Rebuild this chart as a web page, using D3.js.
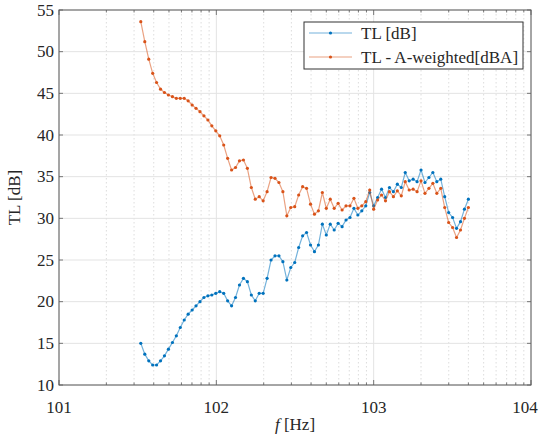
<!DOCTYPE html>
<html>
<head>
<meta charset="utf-8">
<script src="https://cdn.jsdelivr.net/npm/d3@7"></script>
<style>
  body { margin: 0; background: #fff; }
  text { font-family: "Liberation Serif", "Times New Roman", serif; fill: #262626; }
</style>
</head>
<body>
<svg></svg>
<script>
// 1/12-octave band centre frequencies [Hz]
let freqs = [
    33.1, 35.1, 37.2, 39.4, 41.7, 44.2, 46.8, 49.6, 52.6, 55.7, 59.0,
    62.5, 66.2, 70.2, 74.3, 78.7, 83.4, 88.4, 93.6, 99.2, 105.1, 111.4, 118.0,
    125, 132.4, 140.3, 148.7, 157.5, 166.9, 176.8, 187.3, 198.4, 210.2, 222.7, 236.0,
    250, 264.9, 280.6, 297.3, 315.0, 333.7, 353.6, 374.6, 396.9, 420.4, 445.4, 471.9,
    500, 529.7, 561.2, 594.6, 630.0, 667.4, 707.1, 749.2, 793.7, 840.9, 890.9, 943.9,
    1000, 1059.5, 1122.5, 1189.2, 1259.9, 1334.8, 1414.2, 1498.3, 1587.4, 1681.8, 1781.8, 1887.7,
    2000, 2118.9, 2244.9, 2378.4, 2519.8, 2669.6, 2828.4, 2996.6, 3174.8, 3363.6, 3563.6, 3775.5,
    4000
];

let tl = [
    15.0, 13.7, 12.9, 12.4, 12.4, 12.9, 13.5, 14.3, 15.1, 15.9, 16.9, 17.8,
    18.5, 19.0, 19.5, 20.0, 20.5, 20.7, 20.8, 21.0, 21.2, 21.0, 20.1, 19.5,
    20.5, 22.0, 22.8, 22.4, 20.8, 20.1, 21.0, 21.0, 22.8, 25.0, 25.5, 25.5,
    24.8, 22.6, 24.1, 24.7, 26.5, 27.9, 28.3, 26.8, 26.0, 26.8, 29.3, 28.0,
    29.3, 28.6, 29.4, 29.0, 29.8, 30.1, 31.2, 30.4, 30.9, 31.5, 33.1, 31.5,
    32.5, 33.5, 32.5, 33.7, 33.2, 34.1, 33.7, 35.5, 34.5, 34.7, 34.4, 35.8,
    34.3, 34.9, 35.5, 34.4, 34.7, 32.6, 30.7, 30.1, 28.8, 29.6, 31.1, 32.3
];

let tlA = [
    53.6, 51.2, 49.1, 47.4, 46.3, 45.5, 45.1, 44.8, 44.6, 44.4, 44.4, 44.4,
    44.1, 43.6, 43.2, 42.8, 42.3, 41.8, 41.1, 40.5, 39.9, 38.8, 37.2, 35.8,
    36.1, 36.9, 37.0, 36.0, 33.7, 32.3, 32.6, 32.1, 33.2, 34.9, 34.8, 34.3,
    33.2, 30.3, 31.3, 31.4, 32.8, 33.8, 33.6, 31.7, 30.5, 30.9, 33.1, 31.2,
    32.3, 31.2, 31.8, 31.0, 31.5, 31.5, 32.4, 31.2, 31.5, 32.0, 33.4, 31.1,
    32.2, 32.8, 32.1, 33.2, 32.6, 33.3, 32.7, 34.4, 33.4, 33.5, 33.2, 34.5,
    33.0, 33.6, 34.2, 33.0, 33.6, 31.3, 29.5, 28.9, 27.7, 28.6, 30.0, 31.3
];

let seriesNames = ["TL [dB]", "TL - A-weighted[dBA]"];
let seriesColors = ["#0072BD", "#D95319"];
let yTicks = [10, 15, 20, 25, 30, 35, 40, 45, 50, 55];
let xTicks = [10, 100, 1000, 10000];
let xTickLabels = ["101", "102", "103", "104"];

let width = 546,
    height = 438;
let margin = {left: 59, right: 15, top: 10, bottom: 53};

let svg = d3.select("svg")
    .attr("width", width)
    .attr("height", height);

let x = d3.scaleLog().domain([10, 10000]).range([margin.left, width - margin.right]);
let y = d3.scaleLinear().domain([10, 55]).range([height - margin.bottom, margin.top]);

let x0 = x.range()[0], x1 = x.range()[1];
let y0 = y.range()[0], y1 = y.range()[1];

// minor decade positions
let minorX = [];
for (let d = 10; d < 10000; d *= 10) {
    for (let k = 2; k <= 9; k++) minorX.push(d * k);
}

// grid
let grid = svg.append("g");
grid.selectAll(".gx-minor").data(minorX).enter().append("line")
    .attr("x1", d => x(d)).attr("x2", d => x(d))
    .attr("y1", y1).attr("y2", y0)
    .attr("stroke", "#d4d4d4").attr("stroke-width", 0.8)
    .attr("stroke-dasharray", "1.5,2.5");
grid.selectAll(".gx").data(xTicks).enter().append("line")
    .attr("x1", d => x(d)).attr("x2", d => x(d))
    .attr("y1", y1).attr("y2", y0)
    .attr("stroke", "#e3e3e3").attr("stroke-width", 1);
grid.selectAll(".gy").data(yTicks).enter().append("line")
    .attr("x1", x0).attr("x2", x1)
    .attr("y1", d => y(d)).attr("y2", d => y(d))
    .attr("stroke", "#e3e3e3").attr("stroke-width", 1);

// series
let series = [tl, tlA];
let line = d3.line()
    .x((d, i) => x(freqs[i]))
    .y(d => y(d));

series.forEach(function(vals, s) {
    svg.append("path")
        .datum(vals)
        .attr("d", line)
        .attr("fill", "none")
        .attr("stroke", seriesColors[s])
        .attr("stroke-opacity", 0.55)
        .attr("stroke-width", 1.2);
    svg.append("g").selectAll("circle")
        .data(vals)
        .enter().append("circle")
        .attr("cx", (d, i) => x(freqs[i]))
        .attr("cy", d => y(d))
        .attr("r", 1.6)
        .attr("fill", seriesColors[s]);
});

// frame and ticks
let axisColor = "#5a5a5a";
svg.append("rect")
    .attr("x", x0).attr("y", y1)
    .attr("width", x1 - x0).attr("height", y0 - y1)
    .attr("fill", "none").attr("stroke", axisColor).attr("stroke-width", 1);

let ticks = svg.append("g").attr("stroke", axisColor).attr("stroke-width", 0.8);
yTicks.forEach(function(v) {
    ticks.append("line").attr("x1", x0).attr("x2", x0 + 4).attr("y1", y(v)).attr("y2", y(v));
    ticks.append("line").attr("x1", x1).attr("x2", x1 - 4).attr("y1", y(v)).attr("y2", y(v));
});
xTicks.forEach(function(v) {
    ticks.append("line").attr("x1", x(v)).attr("x2", x(v)).attr("y1", y0).attr("y2", y0 - 5);
    ticks.append("line").attr("x1", x(v)).attr("x2", x(v)).attr("y1", y1).attr("y2", y1 + 5);
});
minorX.forEach(function(v) {
    ticks.append("line").attr("x1", x(v)).attr("x2", x(v)).attr("y1", y0).attr("y2", y0 - 2.5);
    ticks.append("line").attr("x1", x(v)).attr("x2", x(v)).attr("y1", y1).attr("y2", y1 + 2.5);
});

// tick labels
svg.append("g").selectAll("text")
    .data(yTicks)
    .enter().append("text")
    .attr("x", x0 - 5)
    .attr("y", d => y(d) + 5.5)
    .attr("text-anchor", "end")
    .attr("font-size", 17)
    .text(d => d);

svg.append("g").selectAll("text")
    .data(xTicks)
    .enter().append("text")
    .attr("x", (d, i) => i === xTicks.length - 1 ? x(d) - 6 : x(d))
    .attr("y", y0 + 28)
    .attr("text-anchor", "middle")
    .attr("font-size", 17)
    .text((d, i) => xTickLabels[i]);

// axis titles
let xl = svg.append("text")
    .attr("x", (x0 + x1) / 2)
    .attr("y", y0 + 45)
    .attr("text-anchor", "middle")
    .attr("font-size", 17);
xl.append("tspan").attr("font-style", "italic").text("f");
xl.append("tspan").text(" [Hz]");

svg.append("text")
    .attr("transform", `translate(${x0 - 39}, ${(y0 + y1) / 2}) rotate(-90)`)
    .attr("text-anchor", "middle")
    .attr("font-size", 17)
    .text("TL [dB]");

// legend
let lg = svg.append("g").attr("transform", "translate(304, 22)");
lg.append("rect")
    .attr("width", 219).attr("height", 47)
    .attr("fill", "#fff").attr("stroke", "#333").attr("stroke-width", 1);
seriesNames.forEach(function(name, s) {
    let cy = 11 + s * 24;
    lg.append("line")
        .attr("x1", 5).attr("x2", 48).attr("y1", cy).attr("y2", cy)
        .attr("stroke", seriesColors[s]).attr("stroke-opacity", 0.55).attr("stroke-width", 1.2);
    lg.append("circle").attr("cx", 26.5).attr("cy", cy).attr("r", 1.6).attr("fill", seriesColors[s]);
    lg.append("text")
        .attr("x", 57).attr("y", cy + 6)
        .attr("font-size", 17)
        .text(name);
});
</script>
</body>
</html>
